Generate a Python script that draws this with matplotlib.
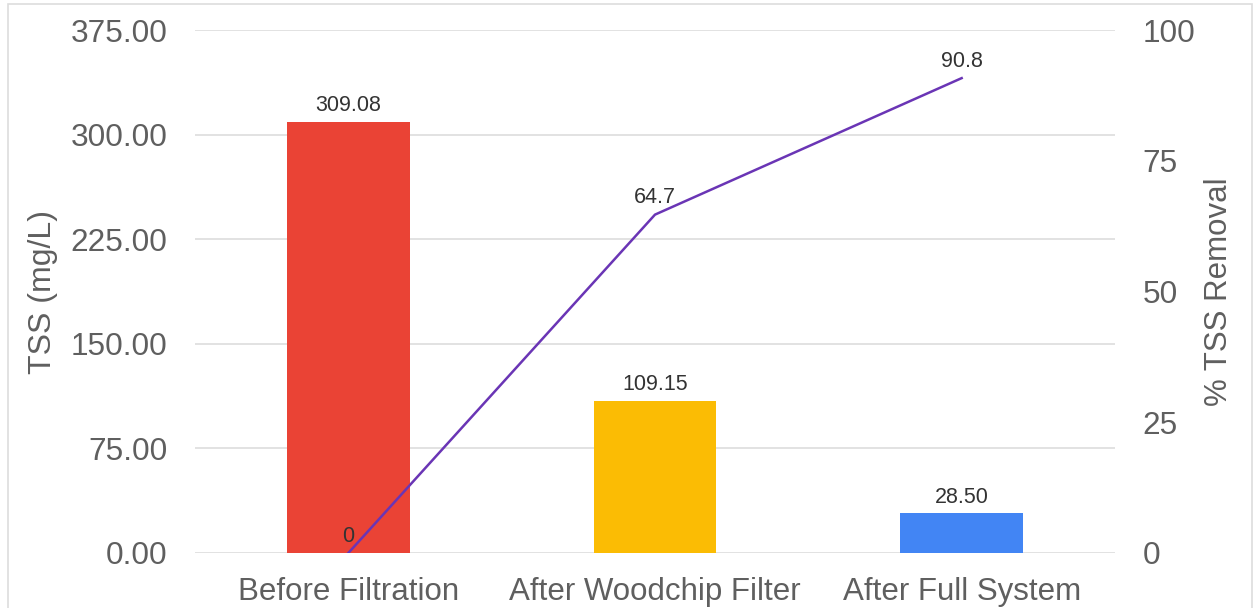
import matplotlib.pyplot as plt
from matplotlib.patches import Rectangle

categories = ["Before Filtration", "After Woodchip Filter", "After Full System"]
tss = [309.08, 109.15, 28.50]
removal = [0, 64.7, 90.8]
bar_colors = ["#EA4335", "#FBBC04", "#4285F4"]
left_ticks = [0, 75, 150, 225, 300, 375]
right_ticks = [0, 25, 50, 75, 100]

plt.rcParams["font.family"] = ["Liberation Sans", "DejaVu Sans"]
grey = "#5f5f5f"

fig = plt.figure(figsize=(12.55, 6.08), dpi=100)
fig.patches.append(Rectangle((8 / 1255, -0.1), 1244 / 1255, 1.1 - 4 / 608,
                             transform=fig.transFigure, fill=False,
                             edgecolor="#dddddd", linewidth=1.2))
ax = fig.add_axes([195 / 1255, 55 / 608, 920 / 1255, 523 / 608])
x = range(len(categories))

ax.bar(x, tss, width=0.4, color=bar_colors, zorder=2)
for xi, v in zip(x, tss):
    ax.text(xi, v + 4, f"{v:.2f}", ha="center", va="bottom", fontsize=15.5, color="#333333")

ax.set_xlim(-0.5, 2.5)
ax.set_ylim(0, 375)
ax.set_yticks(left_ticks)
ax.set_yticklabels([f"{t:.2f}" for t in left_ticks])
ax.set_xticks(list(x))
ax.set_xticklabels(categories)
ax.grid(axis="y", color="#dddddd", linewidth=1.2, zorder=0)
ax.set_axisbelow(True)
for s in ax.spines.values():
    s.set_visible(False)
ax.tick_params(axis="both", length=0, labelsize=22.7, labelcolor=grey)
ax.tick_params(axis="x", labelsize=22.5, pad=17)
ax.tick_params(axis="y", pad=20)
ax.set_ylabel("TSS (mg/L)", fontsize=23, color=grey, labelpad=9)

ax2 = ax.twinx()
ax2.plot(list(x), removal, color="#6a35b5", linewidth=1.8, zorder=3)
for xi, v in zip(x, removal):
    ax2.text(xi, v + 1.2, f"{v:g}", ha="center", va="bottom", fontsize=15.5, color="#333333")
ax2.set_ylim(0, 100)
ax2.set_yticks(right_ticks)
for s in ax2.spines.values():
    s.set_visible(False)
ax2.tick_params(axis="y", length=0, labelsize=22.7, labelcolor=grey, pad=20)
ax2.set_ylabel("% TSS Removal", fontsize=22.5, color=grey, labelpad=6)

fig.savefig("out.png", dpi=100)
